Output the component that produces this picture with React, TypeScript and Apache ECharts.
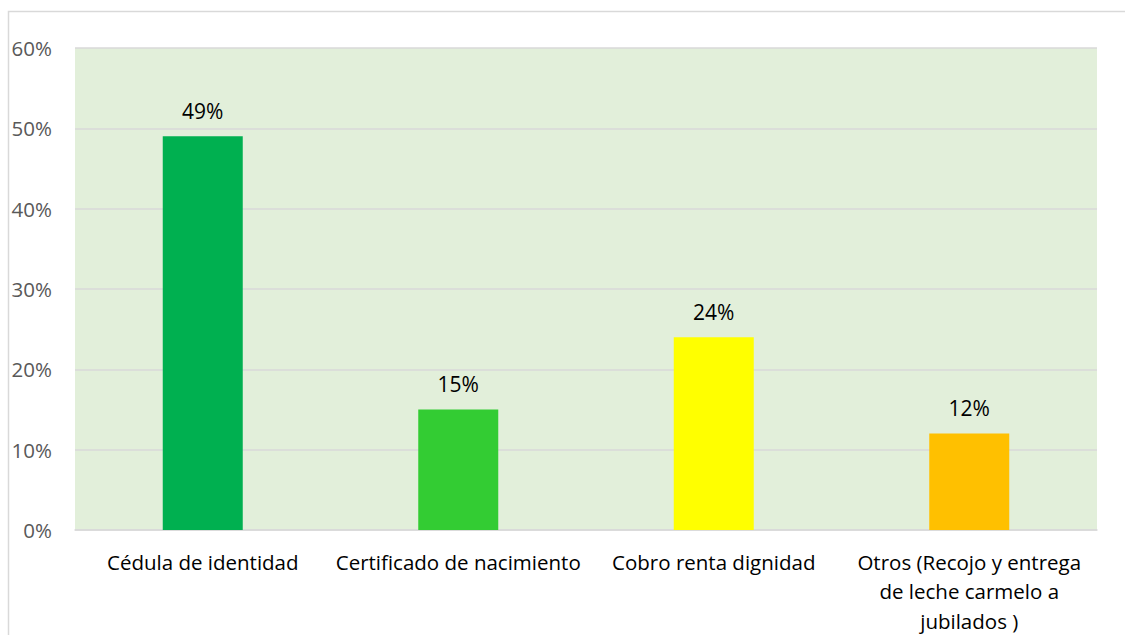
import React, { useEffect, useRef } from "react";
import * as echarts from "echarts";

const categories = [
  "Cédula de identidad",
  "Certificado de nacimiento",
  "Cobro renta dignidad",
  "Otros (Recojo y entrega\nde leche carmelo a\njubilados )",
];
const values = [49, 15, 24, 12];
const barColors = ["#00B050", "#33CC33", "#FFFF00", "#FFC000"];
const yTicks = [0, 10, 20, 30, 40, 50, 60];

export default function App() {
  const ref = useRef<HTMLDivElement>(null);
  useEffect(() => {
    const chart = echarts.init(ref.current!, null, { renderer: "svg" });
    const font = "'Open Sans', sans-serif";
    chart.setOption({
      animation: false,
      backgroundColor: "#ffffff",
      graphic: [
        {
          type: "rect",
          shape: { x: 8.5, y: 11.5, width: 1130, height: 640 },
          style: { fill: "none", stroke: "#D9D9D9", lineWidth: 1.5 },
          silent: true,
          z: -10,
        },
      ],
      grid: {
        left: 75,
        right: 28,
        top: 48,
        bottom: 105,
        show: true,
        backgroundColor: "#E2EFDA",
        borderWidth: 0,
        containLabel: false,
        outerBoundsMode: "none",
      },
      xAxis: {
        type: "category",
        data: categories,
        axisLine: { show: true, lineStyle: { color: "#D9D9D9", width: 1.5 } },
        axisTick: { show: false },
        axisLabel: {
          interval: 0,
          color: "#000000",
          fontFamily: font,
          fontSize: 20.5,
          margin: 17,
          lineHeight: 29.5,
        },
      },
      yAxis: {
        type: "value",
        min: yTicks[0],
        max: yTicks[yTicks.length - 1],
        interval: 10,
        axisLine: { show: false },
        axisTick: { show: false },
        splitLine: { lineStyle: { color: "#D9D9D9", width: 1.5 } },
        axisLabel: {
          formatter: "{value}%",
          color: "#595959",
          fontFamily: font,
          fontSize: 20.5,
          margin: 23,
        },
      },
      series: [
        {
          type: "bar",
          barWidth: 80,
          data: values.map((v, i) => ({ value: v, itemStyle: { color: barColors[i] } })),
          label: {
            show: true,
            position: "top",
            distance: 15,
            formatter: "{c}%",
            color: "#000000",
            fontFamily: font,
            fontSize: 21,
          },
        },
      ],
    });
    return () => chart.dispose();
  }, []);
  return (
    <div
      ref={ref}
      style={{ position: "fixed", left: 0, top: 0, width: 1125, height: 635 }}
    />
  );
}
